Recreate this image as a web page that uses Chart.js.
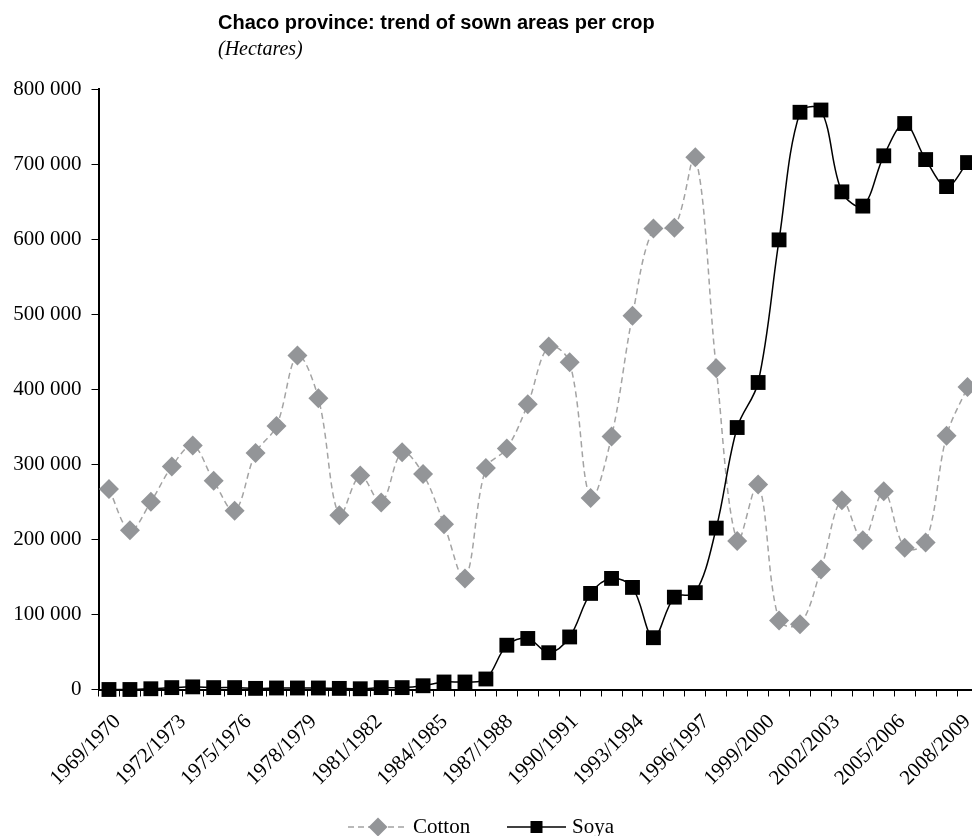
<!DOCTYPE html>
<html>
<head>
<meta charset="utf-8">
<script src="https://cdn.jsdelivr.net/npm/chart.js@4.4.1/dist/chart.umd.min.js"></script>
<style>
html,body{margin:0;padding:0;background:#fff;overflow:hidden;width:972px;height:836px;}
#wrap{position:relative;width:972px;height:836px;overflow:hidden;background:#fff;}
#title{position:absolute;left:218px;top:12px;font:bold 20px "Liberation Sans",Arial,sans-serif;line-height:20px;color:#000;white-space:nowrap;}
#subtitle{position:absolute;left:218px;top:38px;font:italic 20px "Liberation Serif","Times New Roman",serif;line-height:20px;color:#000;white-space:nowrap;}
canvas{position:absolute;left:0;top:0;}
</style>
</head>
<body>
<div id="wrap">
<canvas id="c" width="982" height="836"></canvas>
<div id="title">Chaco province: trend of sown areas per crop</div>
<div id="subtitle">(Hectares)</div>
</div>
<script>
const seasons = ["1969/1970","1970/1971","1971/1972","1972/1973","1973/1974","1974/1975","1975/1976","1976/1977","1977/1978","1978/1979","1979/1980","1980/1981","1981/1982","1982/1983","1983/1984","1984/1985","1985/1986","1986/1987","1987/1988","1988/1989","1989/1990","1990/1991","1991/1992","1992/1993","1993/1994","1994/1995","1995/1996","1996/1997","1997/1998","1998/1999","1999/2000","2000/2001","2001/2002","2002/2003","2003/2004","2004/2005","2005/2006","2006/2007","2007/2008","2008/2009","2009/2010","2010/2011"];

const shownLabels = ["1969/1970","1972/1973","1975/1976","1978/1979","1981/1982","1984/1985","1987/1988","1990/1991","1993/1994","1996/1997","1999/2000","2002/2003","2005/2006","2008/2009"];

const cotton = [267000,212000,250000,297000,325000,278000,238000,315000,351000,445000,388000,232000,285000,249000,316000,287000,220000,148000,295000,321000,380000,457000,436000,255000,337000,498000,614000,615000,709000,428000,198000,273000,92000,87000,160000,252000,199000,264000,189000,196000,338000,403000];

const soya = [0,0,1000,2500,3500,2500,2500,1500,2000,2000,2000,1500,1000,2500,2500,5000,10000,10000,14000,59000,68000,49000,70000,128000,148000,136000,69000,123000,129000,215000,349000,409000,599000,769000,772000,663000,644000,711000,754000,706000,670000,702000];

const yMin = 0, yMax = 800000, yStep = 100000;

function fmt(v){ return String(v).replace(/\B(?=(\d{3})+(?!\d))/g, ' '); }

const serif = '"Liberation Serif","Times New Roman",serif';

const legendPlugin = {
  id: 'lineLegend',
  afterDraw(chart) {
    const ctx = chart.ctx;
    const y = 827;
    const items = [
      {ds: 0, x0: 348, x1: 408, tx: 413, r: 9.5},
      {ds: 1, x0: 507, x1: 566, tx: 572, r: 6}
    ];
    items.forEach(it => {
      const ds = chart.data.datasets[it.ds];
      ctx.save();
      ctx.strokeStyle = ds.borderColor;
      ctx.lineWidth = ds.borderWidth;
      ctx.setLineDash(ds.borderDash || []);
      ctx.beginPath(); ctx.moveTo(it.x0, y); ctx.lineTo(it.x1, y); ctx.stroke();
      ctx.setLineDash([]);
      const cx = (it.x0 + it.x1) / 2;
      ctx.fillStyle = ds.pointBackgroundColor;
      ctx.beginPath();
      if (ds.pointStyle === 'rectRot') {
        ctx.moveTo(cx - it.r, y); ctx.lineTo(cx, y - it.r); ctx.lineTo(cx + it.r, y); ctx.lineTo(cx, y + it.r); ctx.closePath();
      } else {
        ctx.rect(cx - it.r, y - it.r, 2 * it.r, 2 * it.r);
      }
      ctx.fill();
      ctx.fillStyle = '#000';
      ctx.font = '21px ' + serif;
      ctx.textBaseline = 'middle';
      ctx.textAlign = 'left';
      ctx.fillText(ds.label, it.tx, y);
      ctx.restore();
    });
  }
};

function noPad(s) { s.paddingLeft = 0; s.paddingRight = 0; s.paddingTop = 0; s.paddingBottom = 0; }

new Chart(document.getElementById('c'), {
  type: 'line',
  data: {
    labels: seasons,
    datasets: [
      {
        label: 'Cotton',
        data: cotton,
        borderColor: '#a3a3a3',
        borderWidth: 1.5,
        borderDash: [6, 4],
        pointStyle: 'rectRot',
        pointRadius: 10,
        pointHoverRadius: 10,
        pointBackgroundColor: '#939598',
        pointBorderColor: '#939598',
        pointBorderWidth: 0,
        tension: 0.35,
        clip: false,
        order: 2
      },
      {
        label: 'Soya',
        data: soya,
        borderColor: '#000000',
        borderWidth: 1.5,
        pointStyle: 'rect',
        pointRadius: 10.5,
        pointHoverRadius: 10.5,
        pointBackgroundColor: '#000000',
        pointBorderColor: '#000000',
        pointBorderWidth: 0,
        tension: 0.35,
        clip: false,
        order: 1
      }
    ]
  },
  options: {
    responsive: false,
    animation: false,
    events: [],
    layout: { autoPadding: false, padding: { top: 89, left: 0, right: 4, bottom: 0 } },
    plugins: {
      legend: { display: false },
      title: { display: false },
      tooltip: { enabled: false }
    },
    scales: {
      x: {
        type: 'category',
        offset: true,
        grid: { display: true, drawOnChartArea: false, drawTicks: true, tickLength: 7, color: '#000', lineWidth: 1, offset: true },
        border: { display: true, color: '#000', width: 2 },
        ticks: { display: false, autoSkip: false },
        afterFit(s) { s.height = 146.5; noPad(s); }
      },
      xLabels: {
        type: 'linear',
        position: { y: 0 },
        min: -0.29,
        max: 13.16,
        grid: { display: false, drawTicks: false },
        border: { display: false },
        afterBuildTicks(s) { s.ticks = shownLabels.map((_, i) => ({ value: i })); },
        ticks: {
          autoSkip: false, maxRotation: 45, minRotation: 45, padding: 20,
          color: '#000', font: { family: serif, size: 21 },
          callback: v => (shownLabels[v] !== undefined ? shownLabels[v] : '')
        },
        afterFit(s) { s.height = 0; noPad(s); }
      },
      y: {
        min: yMin, max: yMax,
        grid: { display: true, drawOnChartArea: false, drawTicks: true, tickLength: 7, color: '#000', lineWidth: 1 },
        border: { display: true, color: '#000', width: 2 },
        ticks: { stepSize: yStep, padding: 10, color: '#000', font: { family: serif, size: 21 }, callback: v => fmt(v) },
        afterFit(s) { s.width = 98.5; }
      }
    }
  },
  plugins: [legendPlugin]
});
</script>
</body>
</html>
